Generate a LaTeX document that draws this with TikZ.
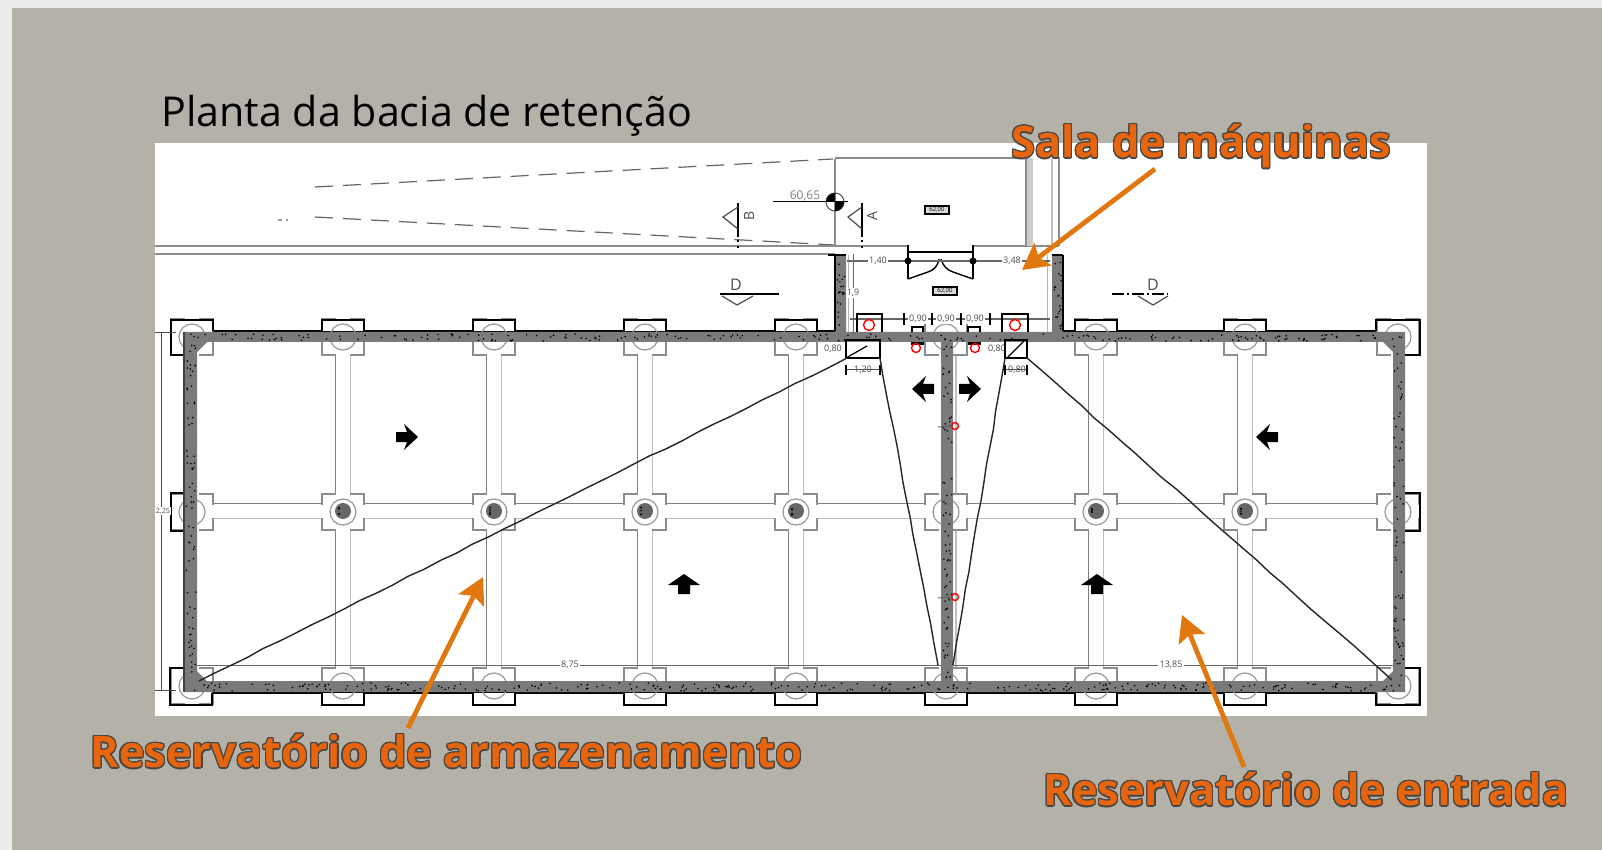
\documentclass[tikz,border=0pt]{standalone}
\usepackage{fontspec}
\usepackage[copies]{contour}
\usetikzlibrary{arrows.meta,decorations.pathmorphing}
\setmainfont{Open Sans}
\definecolor{panelgray}{HTML}{B4B1A9}
\definecolor{pagegray}{HTML}{EDEDED}
\definecolor{wallgray}{HTML}{7A7A7A}
\definecolor{calloutorange}{HTML}{E0770F}
\definecolor{labelorange}{HTML}{E8650F}
\definecolor{labelhalo}{HTML}{4A4742}
\contourlength{.6pt}
\tikzset{
   beamdark/.style={draw=black!50,line width=.7pt},
   beamlight/.style={draw=black!25,line width=.7pt},
   planline/.style={draw=black!45,line width=.55pt},
   capline/.style={draw=black,line width=.8pt},
   tinylabel/.style={font=\fontsize{4.5}{5}\selectfont,text=black!70,inner sep=.6pt,fill=white},
   hoseline/.style={draw=black!85,line width=.7pt,decorate,decoration={random steps,segment length=9pt,amplitude=.3pt}},
   callout/.style={draw=calloutorange,line width=2.4pt,-{Stealth[length=13pt,width=14pt,inset=2.5pt]}},
   biglabel/.style={anchor=west,inner sep=0pt,text=labelorange,font=\fontsize{21.7}{24}\selectfont\bfseries},
   redmark/.style={draw=red,line width=.7pt},
   roomtag/.style={draw=black,line width=.8pt,fill=black!15,inner sep=0pt,minimum width=12pt,minimum height=4pt,font=\fontsize{3}{3}\selectfont}
}
\pgfmathsetseed{4711}
\newcommand{\specks}[5]{\foreach \i in {1,...,#5}{
   \pgfmathsetmacro\px{#1+rnd*(#3-#1)}
   \pgfmathsetmacro\py{#2+rnd*(#4-#2)}
   \fill[black] (\px,\py) circle[radius=.45pt];}}
\newcommand{\fatarrow}[3]{\fill[black,shift={(#1,#2)},rotate=#3] (-11,-5) -- (0,-5) -- (-3,-13) -- (11,0) -- (-3,13) -- (0,5) -- (-11,5) -- cycle;}
\newcommand{\uparrowmark}[2]{\fill[black,shift={(#1,#2)}] (-6,9) -- (-6,0) -- (-16,0) -- (0,-11) -- (16,0) -- (6,0) -- (6,9) -- cycle;}
\begin{document}
\begin{tikzpicture}[x=.5pt,y=-.5pt]
   \useasboundingbox (0,0) rectangle (1602,850);
   \fill[pagegray] (0,0) rectangle (1602,850);
   \fill[panelgray] (12,8) rectangle (1602,850);
   \fill[white] (155,143) rectangle (1427,716);

   % site lines above the basin
   \draw[black!60,line width=.6pt,dash pattern=on 9pt off 5pt] (315,187) -- (833,159);
   \draw[black!60,line width=.6pt,dash pattern=on 9pt off 5pt] (315,217) -- (835,245);
   \draw[black!40,line width=.6pt,dash pattern=on 2pt off 2pt] (278,220) -- (288,220);
   \draw[planline] (155,246) -- (908,246);
   \draw[planline] (973,246) -- (1059,246);
   \draw[planline] (155,254) -- (835,254);
   \draw[planline] (835,159) -- (835,246);
   \draw[planline] (835,158) -- (1026,158) -- (1026,246);
   \fill[black!20] (1027,158) rectangle (1033,246);
   \draw[planline] (1052,158) -- (1059,158) -- (1059,246);
   \draw[black!25,line width=.6pt] (1052,158) -- (1052,246);

   % beams and footings
   \foreach \x in {343,494,645,796,1096,1245}{
      \draw[beamdark] (\x-7.5,342) -- (\x-7.5,681);
      \draw[beamlight] (\x+7.5,342) -- (\x+7.5,681);
   }
   \draw[beamdark] (197,503.5) -- (1393,503.5);
   \draw[beamlight] (197,518.5) -- (1393,518.5);
   \draw[beamlight] (956,342) -- (956,681);
   \draw[black!60,line width=.4pt] (197,665) -- (1393,665);
   \foreach \x in {192,343,494,645,796,946,1096,1245,1398}{
      \foreach \y in {337,512,686}{
         \filldraw[fill=white,draw=black!45,line width=.7pt] (\x-21,\y-18) rectangle (\x+21,\y+18);
         \fill[white] (\x-6.9,\y-20) rectangle (\x+6.9,\y+20);
      }
      \fill[white] (\x-23,505) rectangle (\x+23,518);
   }

   % outer black line of wall and footings
   \draw[capline] (213,331) -- (835,331);
   \draw[capline] (1063,331) -- (1376,331);
   \draw[capline] (212,693) -- (1376,693);
   \foreach \x in {343,494,645,796,1096,1245}{
      \fill[white] (\x-20,320) rectangle (\x+20,331.5);
      \draw[capline] (\x-21,331) -- (\x-21,320) -- (\x+21,320) -- (\x+21,331);
   }
   \foreach \x in {343,494,645,796,946,1096,1245}{
      \fill[white] (\x-20,693) rectangle (\x+20,704);
      \draw[capline] (\x-21,693) -- (\x-21,705) -- (\x+21,705) -- (\x+21,693);
   }
   \draw[capline] (184,355) -- (171,355) -- (171,320) -- (213,320) -- (213,331);
   \draw[capline] (1376,331) -- (1376,320) -- (1420,320) -- (1420,355) -- (1405,355);
   \draw[capline] (184,493) -- (171,493) -- (171,531) -- (184,531);
   \draw[capline] (1405,493) -- (1420,493) -- (1420,531) -- (1405,531);
   \draw[capline] (184,668) -- (170,668) -- (170,705) -- (212,705) -- (212,693);
   \draw[capline] (1376,693) -- (1376,705) -- (1420,705) -- (1420,668) -- (1405,668);
   \foreach \x in {192,343,494,645,796,946,1096,1245,1398}{
      \draw[black!40,line width=.6pt] (\x,337) circle[radius=13];
      \draw[black!40,line width=.6pt] (\x,512) circle[radius=13];
      \draw[black!40,line width=.6pt] (\x,686) circle[radius=13];
   }
   \foreach \x in {343,494,645,796,1096,1245}{
      \fill[black!60] (\x,511) circle[radius=8];
      \specks{\x-4}{507}{\x+4}{515}{5}
   }

   % reinforced concrete walls
   \fill[wallgray,even odd rule] (184,332) -- (835,332) -- (835,255) -- (846,255) -- (846,332)
      -- (1052,332) -- (1052,255) -- (1063,255) -- (1063,332) -- (1405,332) -- (1405,692) -- (184,692) -- cycle
      (197,352) -- (207,342) -- (941,342) -- (941,681) -- (207,681) -- (197,671) -- cycle
      (953,342) -- (1383,342) -- (1393,352) -- (1393,671) -- (1383,681) -- (953,681) -- cycle;
   \draw[black!75,line width=.7pt] (184,692) -- (184,332);
   \draw[black,line width=.8pt] (1063,255) -- (1063,331);
   \draw[black,line width=.8pt] (828,255) -- (846,255);
   \draw[black,line width=.8pt] (835,255) -- (835,331);
   \draw[black,line width=.8pt] (1052,255) -- (1063,255);
   \draw[black!30,line width=.5pt] (848,255) -- (848,332);
   \draw[black!30,line width=.5pt] (1047,255) -- (1047,332);
   \specks{186}{334}{1403}{341}{210}
   \specks{186}{683}{1403}{691}{290}
   \specks{186}{344}{196}{680}{70}
   \specks{1394}{344}{1404}{680}{70}
   \specks{943}{344}{952}{680}{75}
   \specks{837}{258}{845}{331}{20}
   \specks{1054}{258}{1062}{331}{20}

   % machine room
   \draw[black,line width=1.1pt] (908,245) -- (908,279);
   \draw[black,line width=1.1pt] (973,245) -- (973,279);
   \draw[black,line width=.9pt] (908,252) -- (973,252);
   \draw[black,line width=.7pt] (908,279) -- (928,272) .. controls (934,270) and (938,266) .. (939,259);
   \draw[black,line width=.7pt] (973,279) -- (953,272) .. controls (947,270) and (943,266) .. (941,259);
   \draw[black!60,line width=.7pt] (847,261) -- (1050,261);
   \draw[black!60,line width=.7pt] (850,319) -- (1050,319);
   \draw[black!60,line width=.5pt] (853,254) -- (853,335);
   \foreach \x in {908,973}{
      \fill[black] (\x,261) circle[radius=3.5];
   }
   \foreach \x in {904,932,961,990}{
      \draw[black,line width=1.2pt] (\x,313) -- (\x,325);
   }
   \node[tinylabel] (dimone) at (878,261) {1,40};
   \node[tinylabel] (dimtwo) at (1012,261) {3,48};
   \node[tinylabel] (dimthree) at (853,293) {1,9};
   \node[tinylabel] (dimfour) at (918,319) {0,90};
   \node[tinylabel] (dimfive) at (946,319) {0,90};
   \node[tinylabel] (dimsix) at (975,319) {0,90};
   \node[tinylabel] (dimseven) at (833,349) {0,80};
   \node[tinylabel] (dimeight) at (997,349) {0,80};
   \node[tinylabel] (dimnine) at (863,370) {1,20};
   \node[tinylabel] (dimten) at (1017,370) {0,80};
   \draw[black!70,line width=.5pt] (846,370) -- (880,370);
   \draw[black!70,line width=.5pt] (1005,370) -- (1027,370);
   \foreach \x in {846,880,1005,1027}{
      \draw[black,line width=1.2pt] (\x,365) -- (\x,375);
   }

   % sumps in the wall
   \draw[capline] (857,332) -- (857,314) -- (882,314) -- (882,332);
   \draw[capline] (1002,332) -- (1002,314) -- (1028,314) -- (1028,332);
   \draw[black,line width=.9pt] (846,340) rectangle (880,358);
   \draw[black,line width=.9pt] (1005,340) rectangle (1027,358);
   \draw[black,line width=.6pt] (846,358) -- (867,346);
   \draw[black,line width=.6pt] (1007,358) -- (1024,341);
   \draw[black,line width=.8pt] (912,332) -- (912,327) -- (923,327) -- (923,332);
   \draw[black,line width=.8pt] (968,332) -- (968,327) -- (980,327) -- (980,332);
   \fill[black] (911,342) rectangle (924,345);
   \fill[black] (968,342) rectangle (981,345);
   \draw[redmark] (869,325) circle[radius=5.5];
   \draw[redmark] (1015,325) circle[radius=5.5];
   \draw[redmark] (916,348) circle[radius=4.5];
   \draw[redmark] (975,348) circle[radius=4.5];
   \draw[redmark] (955,426) circle[radius=3.5];
   \draw[redmark] (955,597) circle[radius=3.5];
   \draw[black!60,line width=.5pt] (938,427) -- (952,426);
   \draw[black!60,line width=.5pt] (938,598) -- (952,597);

   % hoses between the tanks
   \draw[hoseline] (199,681) -- (847,358);
   \draw[hoseline] (880,358) -- (938,665);
   \draw[hoseline] (1005,358) -- (953,665);
   \draw[hoseline] (1027,358) -- (1392,680);

   % flow arrows
   \fatarrow{407}{437}{0}
   \fatarrow{1267}{437}{180}
   \fatarrow{923}{389}{180}
   \fatarrow{970}{389}{0}
   \uparrowmark{684}{585}
   \uparrowmark{1097}{585}

   % section marks and level
   \draw[black,line width=.9pt] (738,203) -- (738,237);
   \draw[black,line width=.9pt,dash pattern=on 1pt off 2pt] (738,240) -- (738,250);
   \draw[black!70,line width=.6pt] (738,207) -- (723,217) -- (738,229);
   \node[font=\fontsize{7}{7}\selectfont,rotate=90,text=black!70,inner sep=0pt] (markb) at (749,216) {B};
   \draw[black,line width=.9pt] (862,203) -- (862,237);
   \draw[black,line width=.9pt,dash pattern=on 1pt off 2pt] (862,240) -- (862,250);
   \draw[black!70,line width=.6pt] (862,207) -- (848,217) -- (862,229);
   \node[font=\fontsize{7}{7}\selectfont,rotate=90,text=black!70,inner sep=0pt] (marka) at (872,216) {A};
   \draw[black,line width=.5pt] (773,202) -- (848,202);
   \node[font=\fontsize{6}{6}\selectfont,text=black!50,inner sep=0pt] (level) at (805,196) {60,65};
   \draw[black!70,line width=.5pt] (835,202) circle[radius=9];
   \fill[black] (835,202) -- (826,202) arc(180:90:9 and -9) -- cycle;
   \fill[black] (835,202) -- (844,202) arc(0:-90:9 and -9) -- cycle;
   \draw[black,line width=.8pt] (720,294) -- (779,294);
   \draw[black!70,line width=.6pt] (722,296) -- (737,305) -- (753,296);
   \node[font=\fontsize{8}{8}\selectfont,text=black!70,inner sep=0pt] (sectiond) at (736,285) {D};
   \draw[black,line width=.8pt,dash pattern=on 6pt off 1.5pt on 1pt off 1.5pt] (1112,294) -- (1168,294);
   \draw[black!70,line width=.6pt] (1138,296) -- (1153,305) -- (1168,296);
   \node[font=\fontsize{8}{8}\selectfont,text=black!70,inner sep=0pt] (sectiondd) at (1153,285) {D};
   \node[roomtag] (tagone) at (937,210) {62,00};
   \node[roomtag] (tagtwo) at (945,291) {62,00};

   % overall dimensions
   \draw[black!70,line width=.5pt] (161,333) -- (161,690);
   \draw[black!70,line width=.5pt] (155,333) -- (176,333);
   \draw[black!70,line width=.5pt] (155,690) -- (176,690);
   \node[tinylabel,font=\fontsize{3.6}{4}\selectfont] (dimheight) at (163,511) {2,25};
   \node[tinylabel] (dimleft) at (570,665) {8,75};
   \node[tinylabel] (dimright) at (1171,665) {13,85};

   % titles and callouts
   \node[anchor=west,inner sep=0pt,font=\fontsize{20.6}{22}\selectfont] (title) at (161,116) {Planta da bacia de retenção};
   \node[biglabel] (machinelabel) at (1011,147) {\contour{labelhalo}{Sala de máquinas}};
   \node[biglabel] (storagelabel) at (90,752) {\contour{labelhalo}{Reservatório de armazenamento}};
   \node[biglabel] (inletlabel) at (1043,790) {\contour{labelhalo}{Reservatório de entrada}};
   \coordinate (machinetail) at (1155,169);
   \coordinate (machinetip) at (1022,270);
   \coordinate (storagetail) at (408,728);
   \coordinate (storagetip) at (483,577);
   \coordinate (inlettail) at (1244,767);
   \coordinate (inlettip) at (1182,615);
   \draw[callout] (machinetail) -- (machinetip);
   \draw[callout] (storagetail) -- (storagetip);
   \draw[callout] (inlettail) -- (inlettip);
\end{tikzpicture}
\end{document}
